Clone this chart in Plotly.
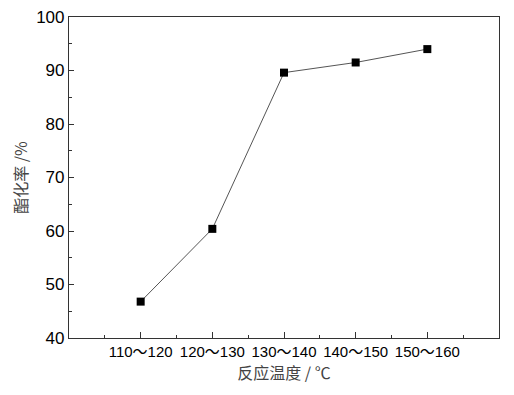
import plotly.graph_objects as go

categories = ["110～120", "120～130", "130～140", "140～150", "150～160"]
conversion = [46.8, 60.4, 89.6, 91.5, 94.0]
y_ticks = [40, 50, 60, 70, 80, 90, 100]

x_pos = list(range(len(categories)))

fig = go.Figure()
fig.add_trace(go.Scatter(
    x=x_pos, y=conversion, mode="lines+markers",
    line=dict(color="#555555", width=1),
    marker=dict(symbol="square", size=8, color="black"),
    showlegend=False,
))

# page body has an 8px default margin, so size the figure to fit the window
fig.update_layout(
    width=506, height=387,
    margin=dict(l=61, r=15, t=9, b=57),
    paper_bgcolor="white", plot_bgcolor="white",
    font=dict(family="Liberation Sans, Noto Sans CJK SC", color="black"),
)
fig.update_xaxes(
    range=[-1, 5], tickmode="array", tickvals=x_pos, ticktext=categories,
    ticks="inside", ticklen=6, tickwidth=1, tickcolor="#333",
    showline=True, linecolor="#333", linewidth=1.2, mirror=True,
    showgrid=False, zeroline=False, automargin=False,
    tickfont=dict(size=15, family="Liberation Sans, Noto Sans CJK SC"),
    minor=dict(tickvals=[-0.5, 0.5, 1.5, 2.5, 3.5, 4.5], ticks="inside", ticklen=3, tickcolor="#333", showgrid=False),
    title=dict(text="反应温度 / ℃", font=dict(size=16, color="#444", family="Noto Sans CJK SC"), standoff=7),
)
fig.update_yaxes(
    range=[40, 100], tickmode="array", tickvals=y_ticks,
    ticks="inside", ticklen=5, tickwidth=1, tickcolor="#333",
    showline=True, linecolor="#333", linewidth=1.2, mirror=True,
    showgrid=False, zeroline=False, automargin=False,
    ticklabeloverflow="allow",
    tickfont=dict(size=17),
    minor=dict(dtick=5, tick0=0, ticks="inside", ticklen=3, tickcolor="#333", showgrid=False),
    title=dict(text="酯化率 /%", font=dict(size=16, color="#444", family="Noto Sans CJK SC"), standoff=13),
)

fig.write_html("out.html")
